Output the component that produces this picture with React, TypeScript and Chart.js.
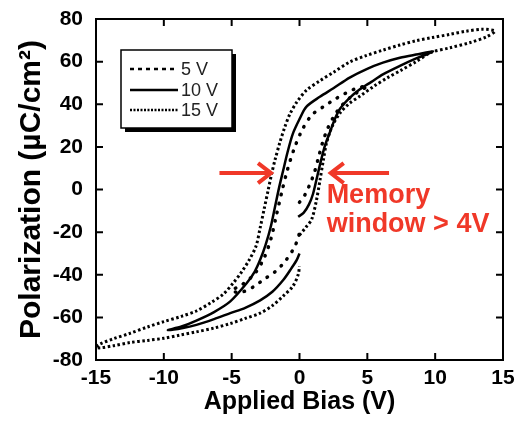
import { useEffect, useRef } from "react";
import { Chart, registerables } from "chart.js";

Chart.register(...registerables);

const FONT = "'Liberation Sans', Arial, Helvetica, sans-serif";

const seriesLabels = ["5 V", "10 V", "15 V"];
const xTickValues = [-15, -10, -5, 0, 5, 10, 15];
const yTickValues = [-80, -60, -40, -20, 0, 20, 40, 60, 80];

// 5 V loop: rising, upper (descending), lower (returning)
const bias5 = [0, 0.4, 0.8, 1.1, 1.4, 1.7, 2.1, 2.6, 3.2, 4, 5,
  4.2, 3.35, 2.6, 1.75, 0.9, 0.2, -0.4, -0.9, -1.3, -1.7, -2.1, -2.6, -3.3, -4.2, -5,
  -4.3, -3.4, -2.7, -1.8, -1.1, -0.5, -0.1, 0];
const pol5 = [-6, -2.5, 3, 8, 15, 22, 29, 35, 40, 44.5, 48.5,
  47.5, 45, 42.3, 38.8, 34.9, 28, 19, 9, -1, -12, -23, -32, -39.5, -44.5, -47.5,
  -48.2, -45.7, -42.5, -38.6, -34, -28.5, -23, -20];

// 10 V loop
const bias10 = [-0.1, 0.3, 0.7, 1.0, 1.3, 1.6, 1.9, 2.25, 2.6, 3.0, 3.7, 4.45, 5.3, 6.15, 7.4, 8.6, 9.85,
  8.6, 7.4, 6.15, 4.95, 3.7, 2.5, 1.5, 0.5, 0, -0.5, -0.9, -1.2, -1.5, -1.8, -2.1, -2.5, -2.9, -3.3, -3.9, -5.1, -6.3, -7.6, -8.7, -9.7,
  -8.6, -7.6, -6.3, -5.1, -4, -2.9, -2, -1.2, -0.6, -0.2, 0];
const pol10 = [-12.8, -11, -7, -2, 6, 14, 21, 27, 33, 38, 43, 47, 50.5, 54, 58, 61.5, 64.7,
  63.3, 61.8, 59.5, 56.5, 52.5, 47.5, 43.5, 38.8, 33, 26, 17, 9, 1, -8, -17, -26, -33, -38.5, -44, -52.5, -57.5, -61.5, -64.3, -66,
  -65, -63.5, -60.8, -58, -55.5, -52, -48, -42.5, -37, -33, -30];

// 15 V loop
const bias15 = [0, 0.5, 0.9, 1.25, 1.5, 1.75, 2.0, 2.4, 3.0, 3.7, 4.5, 5.5, 6.5, 7.5, 8.6, 9.7, 11.1, 12.6, 13.8, 14.4,
  13.5, 12.3, 11.1, 9.8, 8.6, 7.4, 6.15, 4.9, 3.7, 2.5, 1.5, 0.5, -0.2, -0.7, -1.1, -1.45, -1.8, -2.05, -2.3, -2.6, -2.9, -3.2, -3.7, -4.3, -4.9, -5.6, -6.5, -7.6, -8.7, -10, -11.2, -12.5, -13.7, -14.7, -15,
  -14.7, -13.7, -12.5, -11.2, -10, -8.8, -7.6, -6.3, -5.1, -4, -2.9, -2, -1.2, -0.5, -0.1, 0];
const pol15 = [-21.4, -17.5, -14, -5, 4, 13.5, 22, 29.5, 36, 40.5, 44, 48.5, 52.5, 56, 60, 64.3, 66.5, 69, 71.7, 74.3,
  75.2, 74.3, 72.8, 71.3, 69.8, 67.8, 65.4, 62.8, 59.8, 55, 51, 46.5, 41, 35.5, 29, 22, 14, 7.5, 0, -9, -18, -26.5, -33, -39, -44, -49, -53, -57, -59.5, -62, -64.5, -67.5, -70, -72.5, -74,
  -74.3, -73.3, -71.8, -70.8, -69.8, -68.3, -66.8, -65, -62.9, -60.5, -58, -54.5, -50, -45.5, -40, -36];

// annotation (data units)
const arrowY = 7.7;
const leftArrow = [-5.9, -2.1];
const rightArrow = [6.6, 2.3];
const noteLines = ["Memory", "window > 4V"];
const noteX = 2.0;
const noteY = [-6.5, -20];

const toPoints = (xs: number[], ys: number[]) => xs.map((x, i) => ({ x, y: ys[i] }));

const RED = "rgb(240,56,40)";

const frameTicks = {
  id: "frameTicks",
  afterDatasetsDraw(chart: any) {
    const { ctx, chartArea: a, scales } = chart;
    ctx.save();
    ctx.strokeStyle = "#000";
    ctx.lineWidth = 2;
    ctx.strokeRect(a.left, a.top, a.right - a.left, a.bottom - a.top);
    const L = 7;
    ctx.beginPath();
    xTickValues.forEach((v) => {
      const px = scales.x.getPixelForValue(v);
      ctx.moveTo(px, a.bottom); ctx.lineTo(px, a.bottom - L);
      ctx.moveTo(px, a.top); ctx.lineTo(px, a.top + L);
    });
    yTickValues.forEach((v) => {
      const py = scales.y.getPixelForValue(v);
      ctx.moveTo(a.left, py); ctx.lineTo(a.left + L, py);
      ctx.moveTo(a.right, py); ctx.lineTo(a.right - L, py);
    });
    ctx.stroke();
    ctx.restore();
  },
};

const legendBox = {
  id: "legendBox",
  afterDraw(chart: any) {
    const { ctx } = chart;
    const bx = 121, by = 50, bw = 111, bh = 78;
    ctx.save();
    ctx.fillStyle = "#000";
    ctx.fillRect(bx + 4, by + 4, bw, bh);
    ctx.fillStyle = "#fff";
    ctx.fillRect(bx, by, bw, bh);
    ctx.strokeStyle = "#000";
    ctx.lineWidth = 1.5;
    ctx.strokeRect(bx, by, bw, bh);
    const dashes = [[4, 4], [], [2, 1.5]];
    const rows = [69, 90, 110];
    ctx.font = `18px ${FONT}`;
    ctx.textBaseline = "middle";
    seriesLabels.forEach((lab, i) => {
      ctx.beginPath();
      ctx.setLineDash(dashes[i]);
      ctx.lineWidth = 2.5;
      ctx.moveTo(130, rows[i]);
      ctx.lineTo(178, rows[i]);
      ctx.stroke();
      ctx.setLineDash([]);
      ctx.fillStyle = "#222";
      ctx.fillText(lab, 181, rows[i] + 1);
    });
    ctx.restore();
  },
};

const memoryNote = {
  id: "memoryNote",
  afterDraw(chart: any) {
    const { ctx, scales } = chart;
    const py = scales.y.getPixelForValue(arrowY);
    const drawArrow = (fromV: number, toV: number) => {
      const x0 = scales.x.getPixelForValue(fromV);
      const x1 = scales.x.getPixelForValue(toV);
      const d = Math.sign(x1 - x0);
      ctx.beginPath();
      ctx.moveTo(x0, py);
      ctx.lineTo(x1 - d * 2, py);
      ctx.stroke();
      ctx.beginPath();
      ctx.moveTo(x1 - d * 13, py - 10);
      ctx.lineTo(x1, py);
      ctx.lineTo(x1 - d * 13, py + 10);
      ctx.stroke();
    };
    ctx.save();
    ctx.strokeStyle = RED;
    ctx.lineWidth = 4;
    ctx.lineCap = "butt";
    ctx.lineJoin = "miter";
    drawArrow(leftArrow[0], leftArrow[1]);
    drawArrow(rightArrow[0], rightArrow[1]);
    ctx.fillStyle = RED;
    ctx.font = `bold 27px ${FONT}`;
    ctx.textBaseline = "alphabetic";
    noteLines.forEach((t, i) => {
      ctx.fillText(t, scales.x.getPixelForValue(noteX), scales.y.getPixelForValue(noteY[i]));
    });
    ctx.restore();
  },
};

export default function App() {
  const ref = useRef<HTMLCanvasElement>(null);
  useEffect(() => {
    if (!ref.current) return;
    const common = { showLine: true, pointRadius: 0, borderColor: "#000", tension: 0.3, fill: false };
    const chart = new Chart(ref.current, {
      type: "scatter",
      data: {
        datasets: [
          { ...common, label: seriesLabels[0], data: toPoints(bias5, pol5), borderWidth: 3.5, borderDash: [0.5, 8.5], borderCapStyle: "round" as const },
          { ...common, label: seriesLabels[1], data: toPoints(bias10, pol10), borderWidth: 2.5 },
          { ...common, label: seriesLabels[2], data: toPoints(bias15, pol15), borderWidth: 3, borderDash: [2.5, 2.5], borderCapStyle: "butt" as const },
        ],
      },
      options: {
        animation: false,
        responsive: true,
        maintainAspectRatio: false,
        layout: { padding: { top: 19, right: 14, left: 0, bottom: 0 } },
        plugins: { legend: { display: false }, tooltip: { enabled: false } },
        scales: {
          x: {
            type: "linear", min: -15, max: 15,
            ticks: { stepSize: 5, color: "#000", padding: 6, font: { family: FONT, size: 21, weight: "bold" } },
            grid: { display: false, drawTicks: false },
            border: { display: false },
            title: { display: true, text: "Applied Bias (V)", color: "#000", font: { family: FONT, size: 25, weight: "bold" }, padding: { top: 0, bottom: 6 } },
            afterFit: (s: any) => { s.height = 63; s.paddingLeft = 0; s.paddingRight = 0; },
          },
          y: {
            type: "linear", min: -80, max: 80,
            ticks: { stepSize: 20, color: "#000", padding: 13, font: { family: FONT, size: 21, weight: "bold" } },
            grid: { display: false, drawTicks: false },
            border: { display: false },
            title: { display: true, text: "Polarization (µC/cm²)", color: "#000", font: { family: FONT, size: 30, weight: "bold" }, padding: { top: 14, bottom: 0 } },
            afterFit: (s: any) => { s.width = 96; s.paddingTop = 0; s.paddingBottom = 0; },
          },
        },
      },
      plugins: [frameTicks, legendBox, memoryNote],
    });
    return () => chart.destroy();
  }, []);
  return (
    <div style={{ position: "fixed", left: 0, top: 0, width: 517, height: 423, background: "#fff" }}>
      <canvas ref={ref} />
    </div>
  );
}
